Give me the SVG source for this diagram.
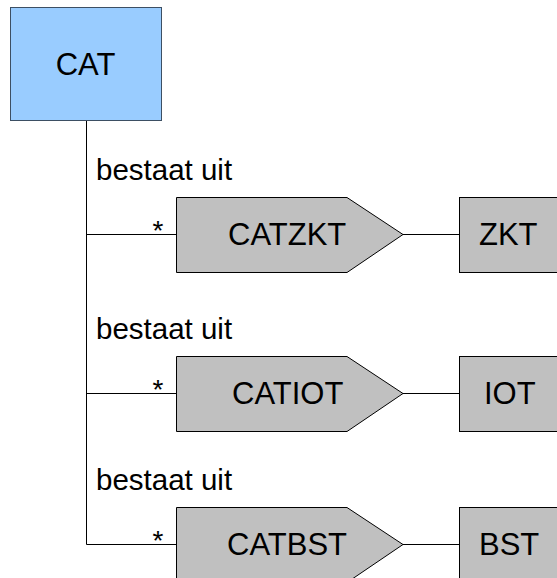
<svg xmlns="http://www.w3.org/2000/svg" width="557" height="578" viewBox="0 0 557 578">
<style>
text{font-family:"Liberation Sans",Arial,sans-serif;fill:#000}
.big{font-size:31px}
.lbl{font-size:29.5px}
.ast{font-size:28px}
.ent{fill:#c0c0c0;stroke:#000;stroke-width:1}
.ln{stroke:#000;stroke-width:1;fill:none}
</style>
<rect width="557" height="578" fill="#fff"/>
<g id="connectors">
<path class="ln" d="M86.5 121V544.5H176"/>
<path class="ln" d="M86.5 234.5H176M86.5 393.5H176"/>
<path class="ln" d="M403 234.5H459M403 393.5H459M403 544.5H459"/>
<text class="lbl" x="96" y="180">bestaat uit</text>
<text class="lbl" x="96" y="339">bestaat uit</text>
<text class="lbl" x="96" y="490">bestaat uit</text>
<text class="ast" x="158" y="240" text-anchor="middle">*</text>
<text class="ast" x="158" y="399" text-anchor="middle">*</text>
<text class="ast" x="158" y="550" text-anchor="middle">*</text>
</g>
<g id="CAT">
<rect x="10.5" y="7.5" width="151" height="113" fill="#99ccff" stroke="#3d4f63"/>
<text class="big" x="85.5" y="75" text-anchor="middle">CAT</text>
</g>
<g id="CATZKT">
<polygon class="ent" points="176.5,197.5 347,197.5 403,234.5 347,272.5 176.5,272.5"/>
<text class="big" x="228" y="245">CATZKT</text>
</g>
<g id="ZKT">
<rect class="ent" x="459.5" y="197.5" width="120" height="75"/>
<text class="big" x="479" y="245">ZKT</text>
</g>
<g id="CATIOT">
<polygon class="ent" points="176.5,356.5 347,356.5 403,393.5 347,431.5 176.5,431.5"/>
<text class="big" x="232" y="404">CATIOT</text>
</g>
<g id="IOT">
<rect class="ent" x="459.5" y="356.5" width="120" height="75"/>
<text class="big" x="484" y="404">IOT</text>
</g>
<g id="CATBST">
<polygon class="ent" points="176.5,507.5 347,507.5 403,544.5 347,582.5 176.5,582.5"/>
<text class="big" x="227" y="555">CATBST</text>
</g>
<g id="BST">
<rect class="ent" x="459.5" y="507.5" width="120" height="75"/>
<text class="big" x="479" y="555">BST</text>
</g>
</svg>
